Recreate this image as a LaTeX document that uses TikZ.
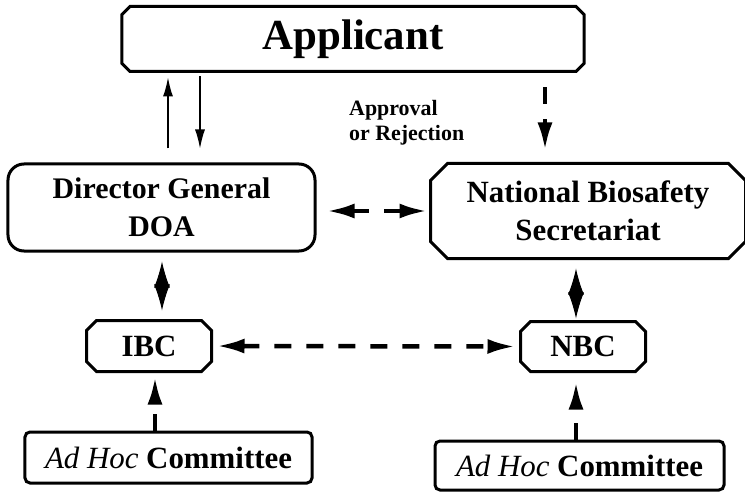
\documentclass[tikz,border=0pt]{standalone}
\usepackage{fontspec}
\setmainfont{Liberation Serif}
\usetikzlibrary{arrows.meta}

\tikzset{
  frame/.style={draw, line width=3bp, align=center, font=\bfseries, inner sep=0pt},
  cutbox/.style={frame, draw=none, rectangle},
  roundbox/.style={frame, rectangle, rounded corners=#1},
  thinarr/.style={line width=1.3bp, -{Latex[length=19bp,width=10bp]}},
  dasharr/.style={line width=4.5bp, dash pattern=on 17bp off 15bp, -{Latex[length=28bp,width=15bp]}},
  twodash/.style={line width=4.5bp, dash pattern=on 17bp off 15bp, {Latex[length=28bp,width=15bp]}-{Latex[length=28bp,width=15bp]}},
  diamarr/.style={line width=1bp, {Latex[length=26bp,width=16bp]}-{Latex[length=26bp,width=16bp]}}
}
\newcommand{\cutframe}[2]{%
  \draw[line width=3bp] ([xshift=#2]#1.north west) -- ([xshift=-#2]#1.north east)
    -- ([yshift=-#2]#1.north east) -- ([yshift=#2]#1.south east)
    -- ([xshift=-#2]#1.south east) -- ([xshift=#2]#1.south west)
    -- ([yshift=#2]#1.south west) -- ([yshift=-#2]#1.north west) -- cycle;}

\begin{document}
\begin{tikzpicture}[x=1bp, y=-1bp]
  \useasboundingbox (0,0) rectangle (745,493);
  \node[cutbox, minimum width=459bp, minimum height=62bp, font=\bfseries\fontsize{43}{48}\selectfont] (app) at (353,39) {Applicant};
  \node[roundbox=16bp, minimum width=307bp, minimum height=87bp, font=\bfseries\fontsize{30}{38}\selectfont] (dg) at (161.5,207.5) {Director General\\DOA};
  \node[cutbox, minimum width=312bp, minimum height=92bp, font=\bfseries\fontsize{31}{38}\selectfont] (nbs) at (588,211) {National Biosafety\\Secretariat};
  \node[cutbox, minimum width=122bp, minimum height=48bp, font=\bfseries\fontsize{31}{36}\selectfont] (ibc) at (149,346) {IBC};
  \node[cutbox, minimum width=122bp, minimum height=47bp, font=\bfseries\fontsize{31}{36}\selectfont] (nbc) at (583,346.5) {NBC};
  \node[roundbox=5bp, minimum width=287bp, minimum height=51bp, font=\bfseries\fontsize{31}{36}\selectfont] (ahl) at (168.5,457.5) {\textit{\mdseries Ad Hoc} Committee};
  \node[roundbox=5bp, minimum width=289bp, minimum height=49bp, font=\bfseries\fontsize{31}{36}\selectfont] (ahr) at (579.5,465.5) {\textit{\mdseries Ad Hoc} Committee};
  \node[anchor=north west, align=left, inner sep=0pt, font=\bfseries\fontsize{22}{25}\selectfont] (verdict) at (349,100) {Approval\\or Rejection};
  \cutframe{app}{8bp}
  \cutframe{nbs}{17bp}
  \cutframe{ibc}{10bp}
  \cutframe{nbc}{10bp}
  \coordinate (upx) at (168,0);
  \coordinate (downx) at (200,0);
  \coordinate (rdx) at (545,0);
  \draw[thinarr, shorten <=14bp, shorten >=6bp] (dg.north -| upx) -- (app.south -| upx);
  \draw[thinarr, shorten <=5bp, shorten >=14bp] (app.south -| downx) -- (dg.north -| downx);
  \draw[dasharr, shorten <=16bp, shorten >=13bp] (app.south -| rdx) -- (nbs.north -| rdx);
  \draw[twodash, shorten <=10bp, shorten >=3bp] (dg.east |- nbs.west) -- (nbs.west);
  \draw[diamarr, shorten <=9bp, shorten >=10bp] (dg.south -| 162,0) -- (ibc.north -| 162,0);
  \draw[diamarr, shorten <=10bp, shorten >=3bp] (nbs.south -| 576,0) -- (nbc.north -| 576,0);
  \draw[twodash, shorten <=5bp, shorten >=5bp] (ibc.east) -- (nbc.west);
  \draw[dasharr, shorten >=5bp] (ahl.north -| 155,0) -- (ibc.south -| 155,0);
  \draw[dasharr, shorten >=10bp] (ahr.north -| 576,0) -- (nbc.south -| 576,0);
\end{tikzpicture}
\end{document}
